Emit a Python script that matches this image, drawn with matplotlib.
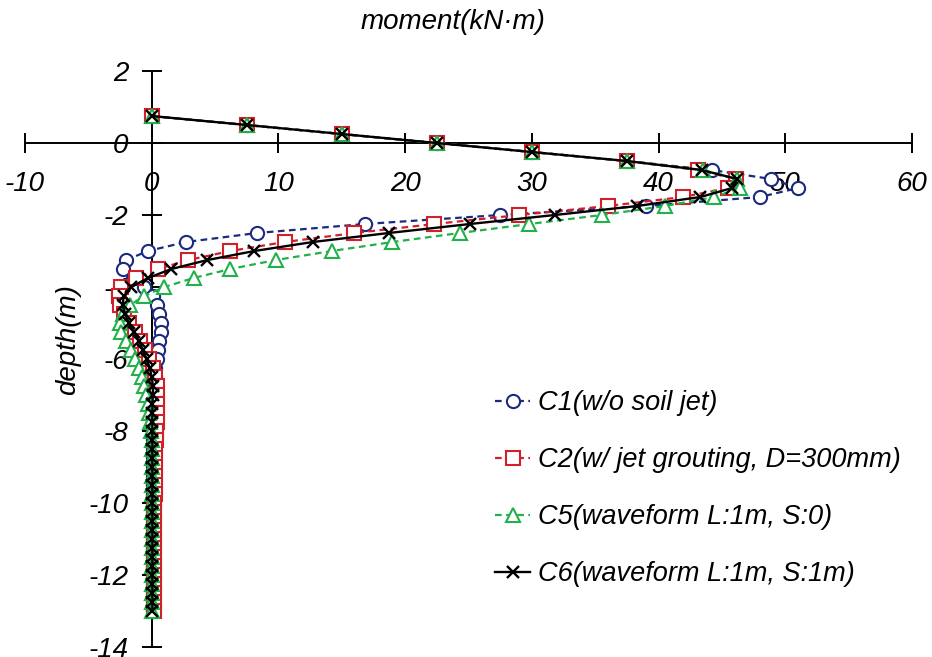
import matplotlib
matplotlib.use('Agg')
import matplotlib.pyplot as plt

# depth of the output points (m)
depth = [0.75, 0.5, 0.25, 0.0, -0.25, -0.5, -0.75, -1.0,
         -1.25, -1.5, -1.75, -2.0, -2.25, -2.5, -2.75, -3.0,
         -3.25, -3.5, -3.75, -4.0, -4.25, -4.5, -4.75, -5.0,
         -5.25, -5.5, -5.75, -6.0, -6.25, -6.5, -6.75, -7.0,
         -7.25, -7.5, -7.75, -8.0, -8.25, -8.5, -8.75, -9.0,
         -9.25, -9.5, -9.75, -10.0, -10.25, -10.5, -10.75, -11.0,
         -11.25, -11.5, -11.75, -12.0, -12.25, -12.5, -12.75, -13.0]

# moment (kN.m)
c1 = [0.0, 7.5, 15.0, 22.5, 30.0, 37.5, 44.2, 48.9,
      51.0, 48.0, 39.0, 27.5, 16.8, 8.3, 2.7, -0.3,
      -2.0, -2.3, -1.5, -0.6, 0.1, 0.4, 0.6, 0.7,
      0.7, 0.6, 0.5, 0.4, 0.3, 0.25, 0.2, 0.15,
      0.15, 0.1, 0.1, 0.1, 0.1, 0.1, 0.1, 0.1,
      0.1, 0.1, 0.1, 0.1, 0.1, 0.1, 0.1, 0.1,
      0.1, 0.1, 0.1, 0.1, 0.1, 0.1, 0.1, 0.1]
c2 = [0.0, 7.5, 15.0, 22.5, 30.0, 37.5, 43.1, 46.1,
      45.5, 41.9, 36.0, 29.0, 22.3, 16.0, 10.5, 6.2,
      2.9, 0.5, -1.2, -2.4, -2.6, -2.5, -2.2, -1.8,
      -1.3, -0.9, -0.5, -0.2, 0.1, 0.3, 0.4, 0.45,
      0.45, 0.4, 0.4, 0.35, 0.35, 0.3, 0.3, 0.3,
      0.25, 0.25, 0.25, 0.2, 0.2, 0.2, 0.2, 0.2,
      0.2, 0.15, 0.15, 0.15, 0.15, 0.15, 0.15, 0.15]
c5 = [0.0, 7.5, 15.0, 22.5, 30.0, 37.5, 43.5, 46.2,
      46.4, 44.4, 40.5, 35.5, 29.8, 24.3, 19.0, 14.2,
      9.8, 6.2, 3.3, 1.0, -0.6, -1.7, -2.3, -2.5,
      -2.4, -2.0, -1.6, -1.3, -1.0, -0.8, -0.6, -0.45,
      -0.3, -0.2, -0.1, -0.05, 0.0, 0.0, 0.0, 0.0,
      0.0, 0.0, 0.0, 0.0, 0.0, 0.0, 0.0, 0.0,
      0.0, 0.0, 0.0, 0.0, 0.0, 0.0, 0.0, 0.0]
c6 = [0.0, 7.5, 15.0, 22.5, 30.0, 37.5, 43.4, 46.2,
      45.8, 43.3, 38.3, 31.8, 25.1, 18.7, 12.7, 8.1,
      4.4, 1.55, -0.3, -1.6, -2.2, -2.3, -2.1, -1.8,
      -1.4, -1.0, -0.7, -0.4, -0.15, 0.0, 0.1, 0.1,
      0.05, 0.05, 0.05, 0.05, 0.05, 0.05, 0.05, 0.05,
      0.05, 0.05, 0.05, 0.05, 0.05, 0.05, 0.05, 0.05,
      0.05, 0.05, 0.05, 0.05, 0.05, 0.05, 0.05, 0.05]

labels = ['C1(w/o soil jet)', 'C2(w/ jet grouting, D=300mm)',
          'C5(waveform L:1m, S:0)', 'C6(waveform L:1m, S:1m)']
xticks = [-10, 0, 10, 20, 30, 40, 50, 60]
yticks = [-14, -12, -10, -8, -6, -4, -2, 0, 2]

plt.rcParams['font.family'] = ['Liberation Sans', 'DejaVu Sans']
plt.rcParams['font.style'] = 'italic'
plt.rcParams['font.size'] = 20
plt.rcParams['axes.unicode_minus'] = False

fig = plt.figure(figsize=(9.32, 6.57), dpi=100)
ax = fig.add_axes([0.0268, 0.0152, 0.9517, 0.8767])

navy = '#1b2a7c'
red = '#d2202a'
green = '#22b04a'

ax.plot(c1, depth, color=navy, ls='--', dashes=(3, 2), lw=1.6, marker='o',
        ms=9.5, mfc='white', mec=navy, mew=1.5, zorder=3, clip_on=False, label=labels[0])
ax.plot(c2, depth, color=red, ls='--', dashes=(3, 2), lw=1.6, marker='s',
        ms=9.5, mfc='white', mec=red, mew=1.5, zorder=3, clip_on=False, label=labels[1])
ax.plot(c5, depth, color=green, ls='--', dashes=(3, 2), lw=1.6, marker='^',
        ms=9.5, mfc='white', mec=green, mew=1.5, zorder=3, clip_on=False, label=labels[2])
ax.plot(c6, depth, color='black', ls='-', lw=1.7, marker='x',
        ms=9, mec='black', mew=1.7, zorder=3, clip_on=False, label=labels[3])

ax.set_xlim(-10, 60)
ax.set_ylim(-14, 2)
ax.set_xticks(xticks)
ax.set_yticks(yticks)

ax.spines['left'].set_position(('data', 0))
ax.spines['bottom'].set_position(('data', 0))
ax.spines['top'].set_visible(False)
ax.spines['right'].set_visible(False)
ax.spines['left'].set_linewidth(1.4)
ax.spines['bottom'].set_linewidth(1.4)
ax.tick_params(axis='x', direction='inout', length=14, width=1.4, pad=13, labelsize=20)
ax.tick_params(axis='y', direction='inout', length=14, width=1.4, pad=10, labelsize=20)
ax.patch.set_visible(False)

fig.text(453 / 932, 1 - 22 / 657, 'moment(kN·m)', ha='center', va='center', fontsize=20)
fig.text(68 / 932, 1 - 340 / 657, 'depth(m)', ha='center', va='center',
         rotation=90, fontsize=20)

ax.legend(loc='upper left', bbox_to_anchor=(495 / 932, 1 - 390 / 657),
          bbox_transform=fig.transFigure, frameon=False, fontsize=19.5,
          handlelength=1.3, handletextpad=0.3, labelspacing=1.15,
          borderpad=0, borderaxespad=0)

fig.savefig('out.png', dpi=100)
